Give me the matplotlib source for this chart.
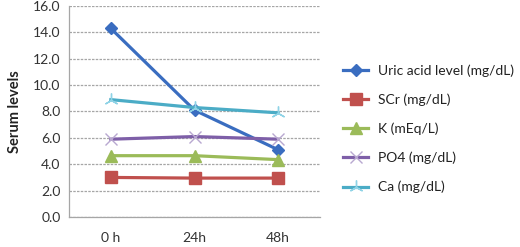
import matplotlib
matplotlib.use("Agg")
import matplotlib.pyplot as plt

categories = ["0 h", "24h", "48h"]
uric = [14.3, 8.1, 5.1]
scr = [3.0, 2.95, 2.95]
k = [4.65, 4.65, 4.35]
po4 = [5.9, 6.1, 5.9]
ca = [8.9, 8.3, 7.9]
yticks = [0, 2, 4, 6, 8, 10, 12, 14, 16]

plt.rcParams['font.family'] = ['Lato', 'DejaVu Sans']

fig = plt.figure(figsize=(5.2, 2.47), dpi=100)
ax = fig.add_axes([69/520, 30/247, 251/520, 211/247])

x = list(range(len(categories)))
series = [
    ("Uric acid level (mg/dL)", uric, "#3A6DC0", "D", 6.5, "#3A6DC0"),
    ("SCr (mg/dL)", scr, "#C0504D", "s", 8.5, "#C0504D"),
    ("K (mEq/L)", k, "#9BBB59", "^", 8, "#9BBB59"),
    ("PO4 (mg/dL)", po4, "#7E5FA8", "x", 9, "#B8A8D0"),
    ("Ca (mg/dL)", ca, "#4BACC6", (3, 2, 0), 10, "#8FD3E6"),
]
handles = []
for label, vals, col, mk, ms, mcol in series:
    h, = ax.plot(x, vals, color=col, lw=2.3, marker=mk, markersize=ms,
                 markerfacecolor=mcol, markeredgecolor=mcol, markeredgewidth=1.0,
                 label=label, zorder=3)
    handles.append(h)

ax.set_xlim(-0.5, 2.5)
ax.set_ylim(0, 16)
ax.set_yticks(yticks)
ax.set_yticklabels([f"{v:.1f}" for v in yticks], fontsize=10, color="#333333")
ax.set_xticks(x)
ax.set_xticklabels(categories, fontsize=10, color="#333333")
ax.tick_params(length=0)
ax.tick_params(axis='x', pad=11)
ax.tick_params(axis='y', pad=6)
ax.grid(axis='y', color="#A6A6A6", lw=0.9, ls=(0, (2, 1)))
ax.set_axisbelow(True)
for s in ["top", "right"]:
    ax.spines[s].set_visible(False)
for s in ["left", "bottom"]:
    ax.spines[s].set_color("#A6A6A6")
    ax.spines[s].set_linewidth(0.9)
ax.set_ylabel("Serum levels", fontsize=10.5, fontweight="bold", color="#222222", labelpad=8)

fig.legend(handles=handles, loc="upper left", bbox_to_anchor=(343/520, 1 - 64/247),
           frameon=False, fontsize=10, handlelength=1.8, handletextpad=0.7,
           labelspacing=1.2, borderpad=0, borderaxespad=0, labelcolor="#222222")

fig.savefig("out.png", dpi=100)
